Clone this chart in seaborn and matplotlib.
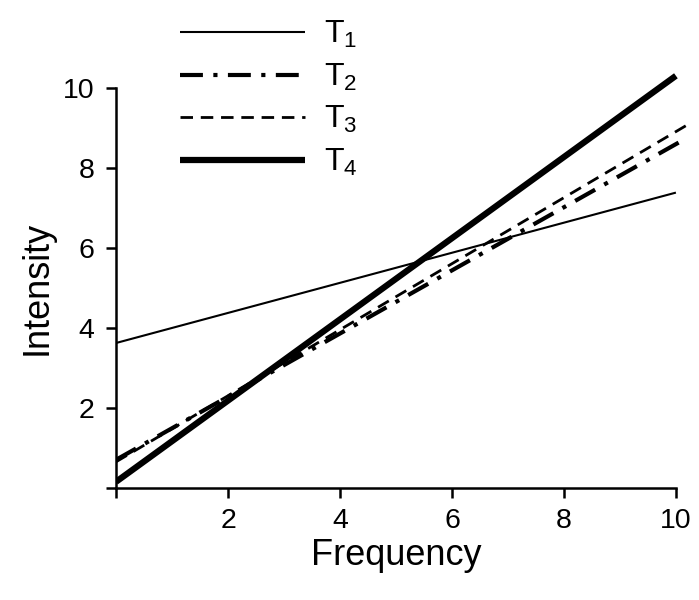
import pandas as pd
import matplotlib
matplotlib.use("Agg")
import matplotlib.pyplot as plt
import seaborn as sns

# dane: koncowki prostych
series = ["T1", "T2", "T3", "T4"]
x_start = [0.0, 0.0, 0.0, 0.0]
x_end = [10.0, 10.2, 10.2, 10.0]
y_start = [3.62, 0.70, 0.65, 0.15]
y_end = [7.38, 8.75, 9.07, 10.30]
labels = ["T$_1$", "T$_2$", "T$_3$", "T$_4$"]
ticks = [0, 2, 4, 6, 8, 10]

rows = []
for s, x0, x1, y0, y1 in zip(series, x_start, x_end, y_start, y_end):
    rows.append({"series": s, "Frequency": x0, "Intensity": y0})
    rows.append({"series": s, "Frequency": x1, "Intensity": y1})
df = pd.DataFrame(rows)

sns.set_style("ticks")
plt.rcParams["font.family"] = ["Liberation Sans", "DejaVu Sans"]
plt.rcParams["mathtext.default"] = "regular"
plt.rcParams["text.color"] = "black"
plt.rcParams["axes.labelcolor"] = "black"
plt.rcParams["xtick.color"] = "black"
plt.rcParams["ytick.color"] = "black"
plt.rcParams["axes.edgecolor"] = "black"

styles = {
    "T1": dict(lw=1.5, linestyle="-"),
    "T2": dict(lw=3.0, linestyle=(0, (5.5, 2.5, 1, 2.5))),
    "T3": dict(lw=2.0, linestyle=(0, (4.5, 2.8))),
    "T4": dict(lw=4.5, linestyle="-"),
}

fig = plt.figure(figsize=(6.99, 6.0), dpi=100)
ax = fig.add_axes([0.166, 0.187, 0.833, 0.80])

for s, lab in zip(series, labels):
    sub = df[df["series"] == s]
    sns.lineplot(data=sub, x="Frequency", y="Intensity", color="black",
                 label=lab, ax=ax, solid_capstyle="butt", **styles[s])

ax.set_xlim(0, 10.4)
ax.set_ylim(0, 12)
ax.set_xticks(ticks)
ax.set_yticks(ticks)
ax.set_xticklabels([""] + [str(t) for t in ticks[1:]])
ax.set_yticklabels([""] + [str(t) for t in ticks[1:]])
ax.tick_params(direction="out", length=7.5, width=1.8, labelsize=20.5)
ax.tick_params(axis="y", pad=8)
ax.tick_params(axis="x", pad=7)

for side in ["top", "right"]:
    ax.spines[side].set_visible(False)
ax.spines["left"].set_bounds(0, 10)
ax.spines["bottom"].set_bounds(0, 10)
ax.spines["left"].set_linewidth(1.8)
ax.spines["bottom"].set_linewidth(1.8)

ax.set_xlabel("Frequency", fontsize=26)
ax.set_ylabel("Intensity", fontsize=26)
ax.xaxis.set_label_coords(5 / 10.4, -0.105)
ax.yaxis.set_label_coords(-0.105, 5 / 12)

ax.legend(loc="upper left", bbox_to_anchor=(0.23, 1.0), bbox_transform=fig.transFigure,
          frameon=False, fontsize=23, handlelength=3.9, labelspacing=0.36,
          handletextpad=0.6, borderpad=0.1)

plt.savefig("out.png", dpi=100)
